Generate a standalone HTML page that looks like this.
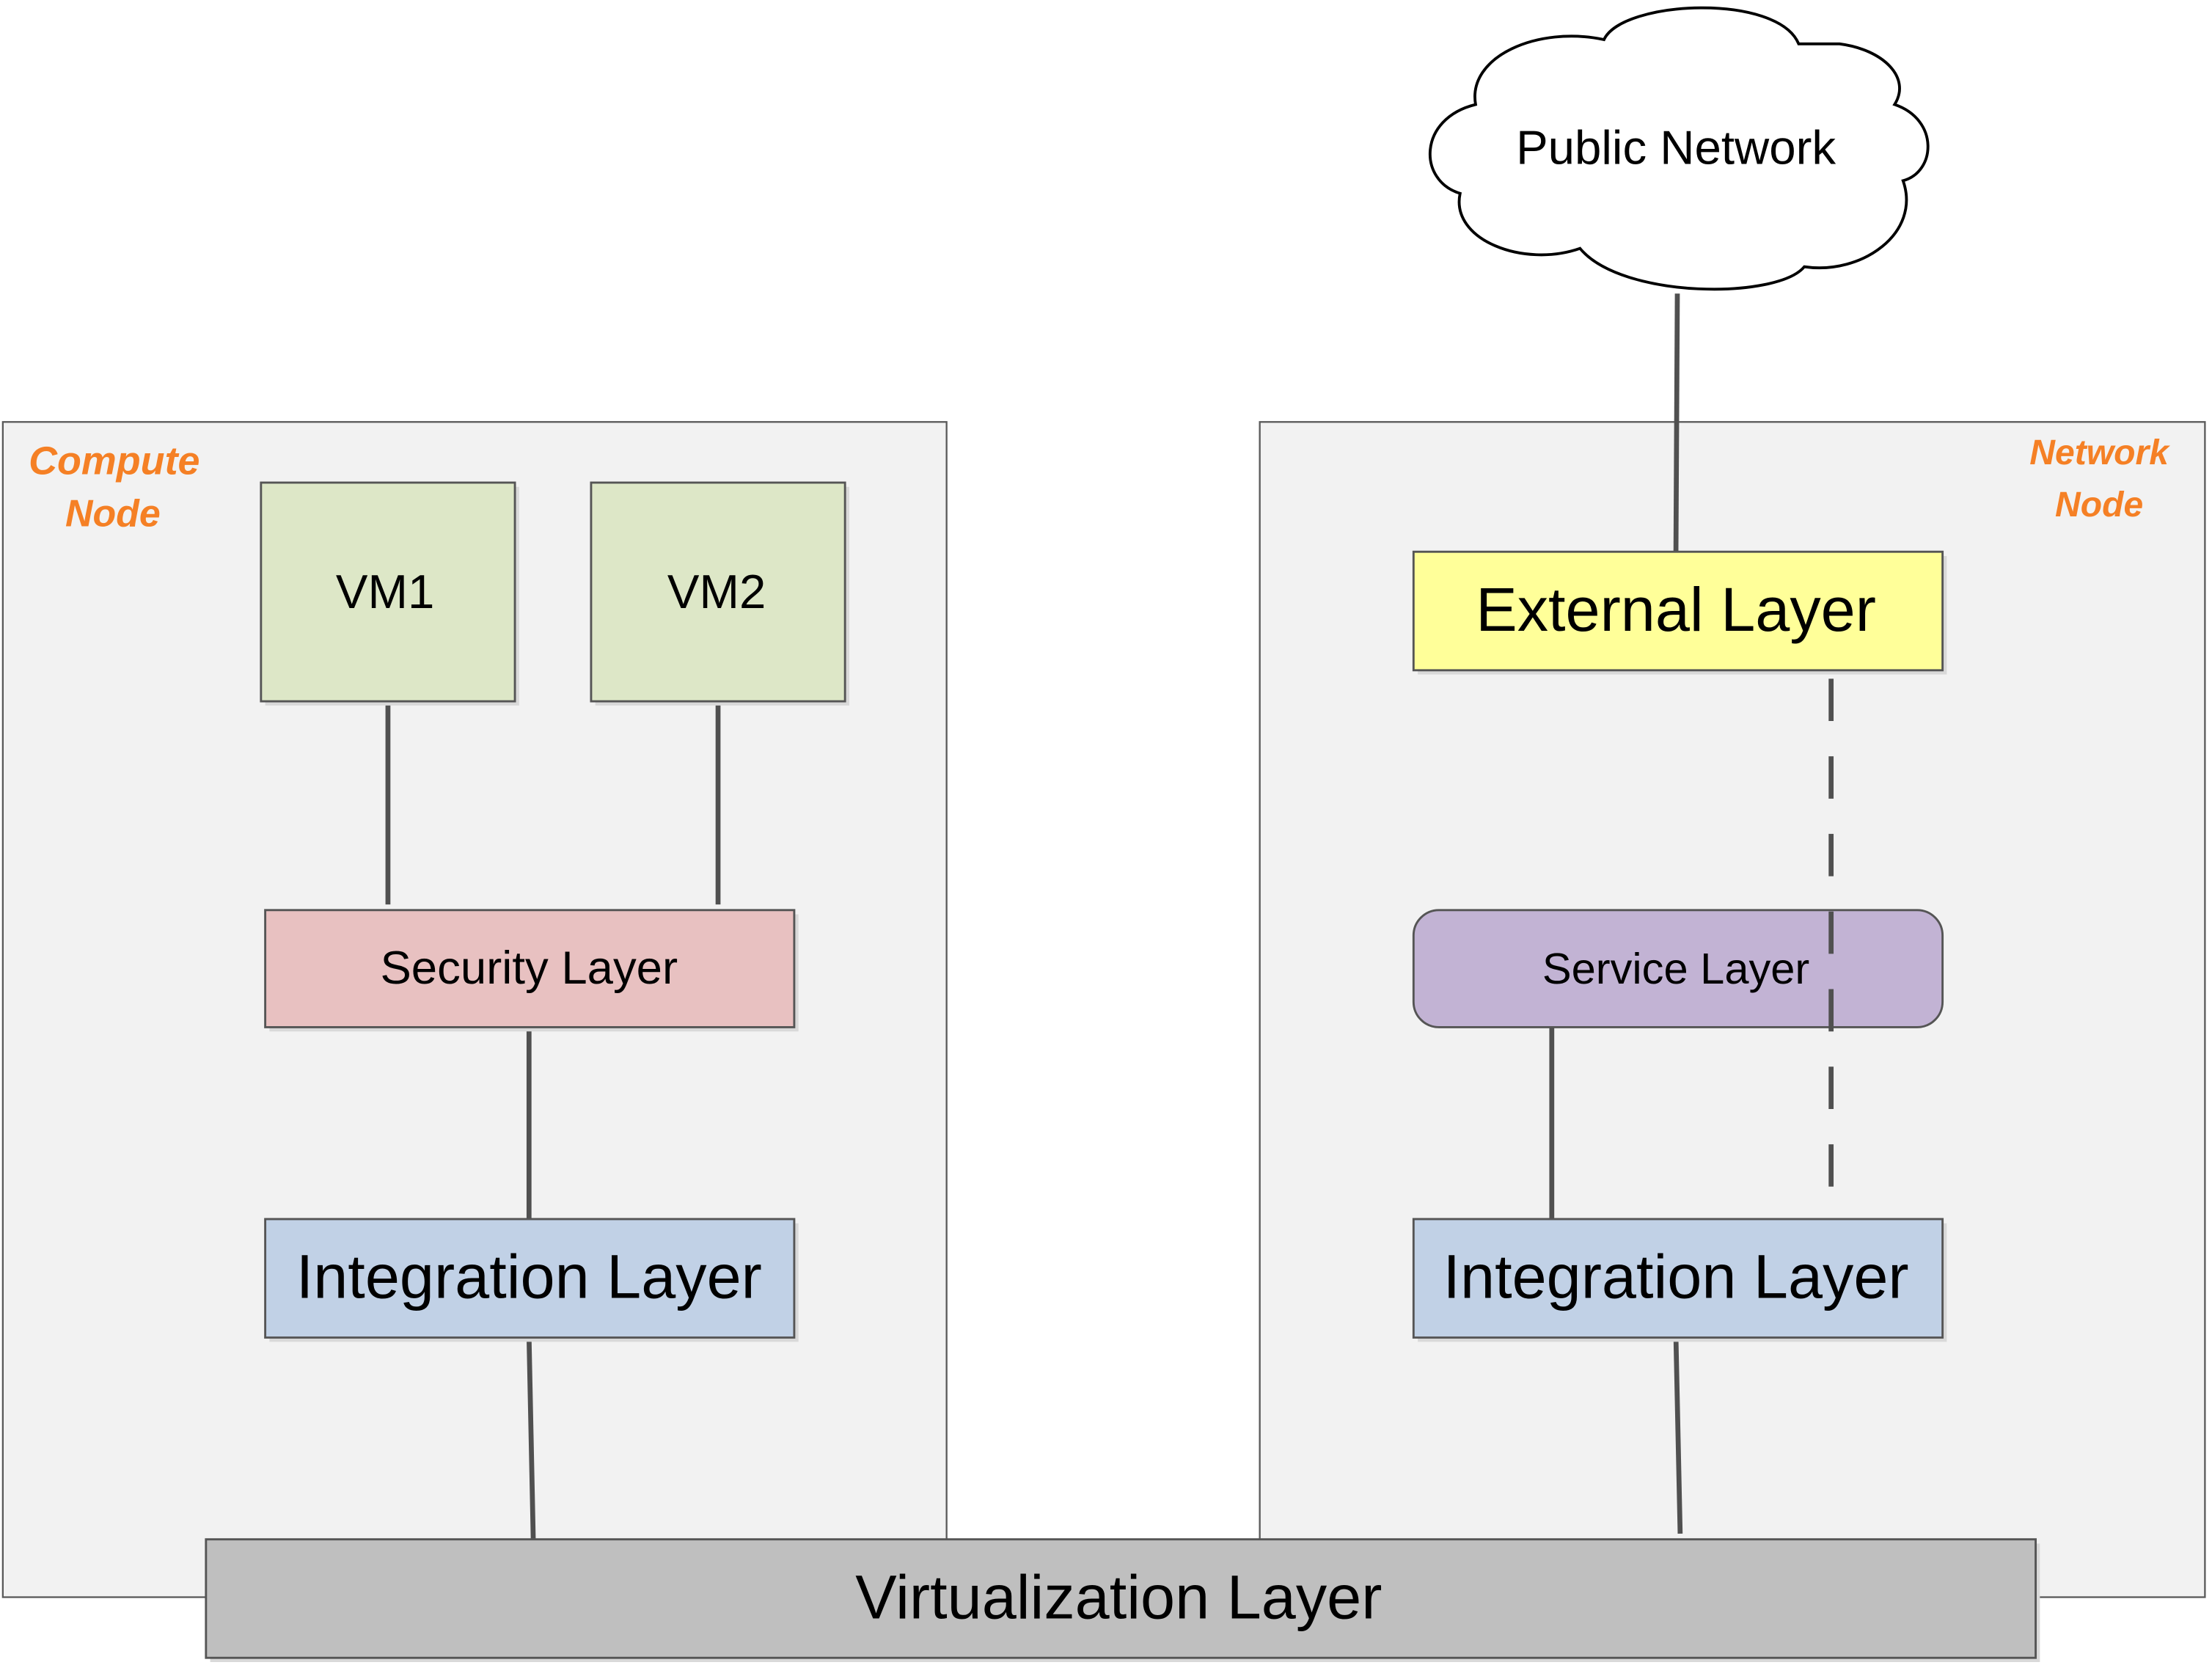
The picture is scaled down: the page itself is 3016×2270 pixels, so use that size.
<!DOCTYPE html>
<html><head><meta charset="utf-8"><style>
html,body{margin:0;padding:0;background:#fff;}
svg{display:block;}
text{font-family:"Liberation Sans",sans-serif;}
</style></head><body>
<svg width="3016" height="2270" viewBox="0 0 1568 1180" xmlns="http://www.w3.org/2000/svg">
<rect width="1568" height="1180" fill="#fff"/>
<rect x="2" y="299" width="669" height="833" fill="#f2f2f2" stroke="#5a5a5a" stroke-width="1.2"/>
<rect x="893" y="299" width="670" height="833" fill="#f2f2f2" stroke="#5a5a5a" stroke-width="1.2"/>
<text x="81" y="336" font-size="28" font-weight="bold" font-style="italic" fill="#f58025" text-anchor="middle">Compute</text>
<text x="80" y="373" font-size="27" font-weight="bold" font-style="italic" fill="#f58025" text-anchor="middle">Node</text>
<text x="1488" y="329" font-size="25" font-weight="bold" font-style="italic" fill="#f58025" text-anchor="middle">Network</text>
<text x="1488" y="366" font-size="25" font-weight="bold" font-style="italic" fill="#f58025" text-anchor="middle">Node</text>
<g stroke="#505050" stroke-width="3.5" fill="none">
<line x1="275" y1="497" x2="275" y2="641"/>
<line x1="509" y1="497" x2="509" y2="641"/>
<line x1="375" y1="728" x2="375" y2="864"/>
<line x1="375" y1="948" x2="378" y2="1091"/>
<line x1="1100" y1="728" x2="1100" y2="864"/>
<line x1="1188" y1="948" x2="1191" y2="1087"/>
<line x1="1189" y1="208" x2="1188" y2="391"/>
</g>
<g fill="#d9d9d9">
<rect x="188" y="345" width="180" height="155"/>
<rect x="422" y="345" width="180" height="155"/>
<rect x="191" y="648" width="375" height="83"/>
<rect x="191" y="867" width="375" height="84"/>
<rect x="1005" y="867" width="375" height="84"/>
<rect x="1005" y="394" width="375" height="84"/>
<rect x="149" y="1094" width="1297" height="84"/>
</g>
<g stroke="#555" stroke-width="1.5">
<rect x="185" y="342" width="180" height="155" fill="#dde7c7"/>
<rect x="419" y="342" width="180" height="155" fill="#dde7c7"/>
<rect x="188" y="645" width="375" height="83" fill="#e8c1c1"/>
<rect x="188" y="864" width="375" height="84" fill="#c1d1e6"/>
<rect x="1002" y="864" width="375" height="84" fill="#c1d1e6"/>
<rect x="1002" y="645" width="375" height="83" rx="18" fill="#c2b3d4"/>
<rect x="1002" y="391" width="375" height="84" fill="#ffff99"/>
<rect x="146" y="1091" width="1297" height="84" fill="#bfbfbf"/>
</g>
<line x1="1298" y1="481" x2="1298" y2="846" stroke="#505050" stroke-width="3.5" stroke-dasharray="30,25"/>
<g fill="#000" text-anchor="middle">
<text x="273" y="431" font-size="34">VM1</text>
<text x="508" y="431" font-size="34">VM2</text>
<text x="375" y="697" font-size="33">Security Layer</text>
<text x="375" y="920" font-size="44">Integration Layer</text>
<text x="1188" y="920" font-size="44">Integration Layer</text>
<text x="1188" y="697" font-size="31">Service Layer</text>
<text x="1188" y="447" font-size="44">External Layer</text>
<text x="793" y="1147" font-size="44">Virtualization Layer</text>
</g>
<path d="M1046,74 C1040,40 1090,18 1137,28 C1150,0 1260,-5 1275,31 L1304,31 C1335,35 1355,55 1343,74 C1375,85 1372,122 1349,128 C1362,165 1320,195 1279,189 C1260,212 1150,212 1120,176 C1080,190 1028,170 1035,137 C1005,128 1005,84 1046,74 Z" fill="#fff" stroke="#000" stroke-width="2"/>
<text x="1188" y="116" font-size="34" text-anchor="middle" fill="#000">Public Network</text>
</svg>
</body></html>
